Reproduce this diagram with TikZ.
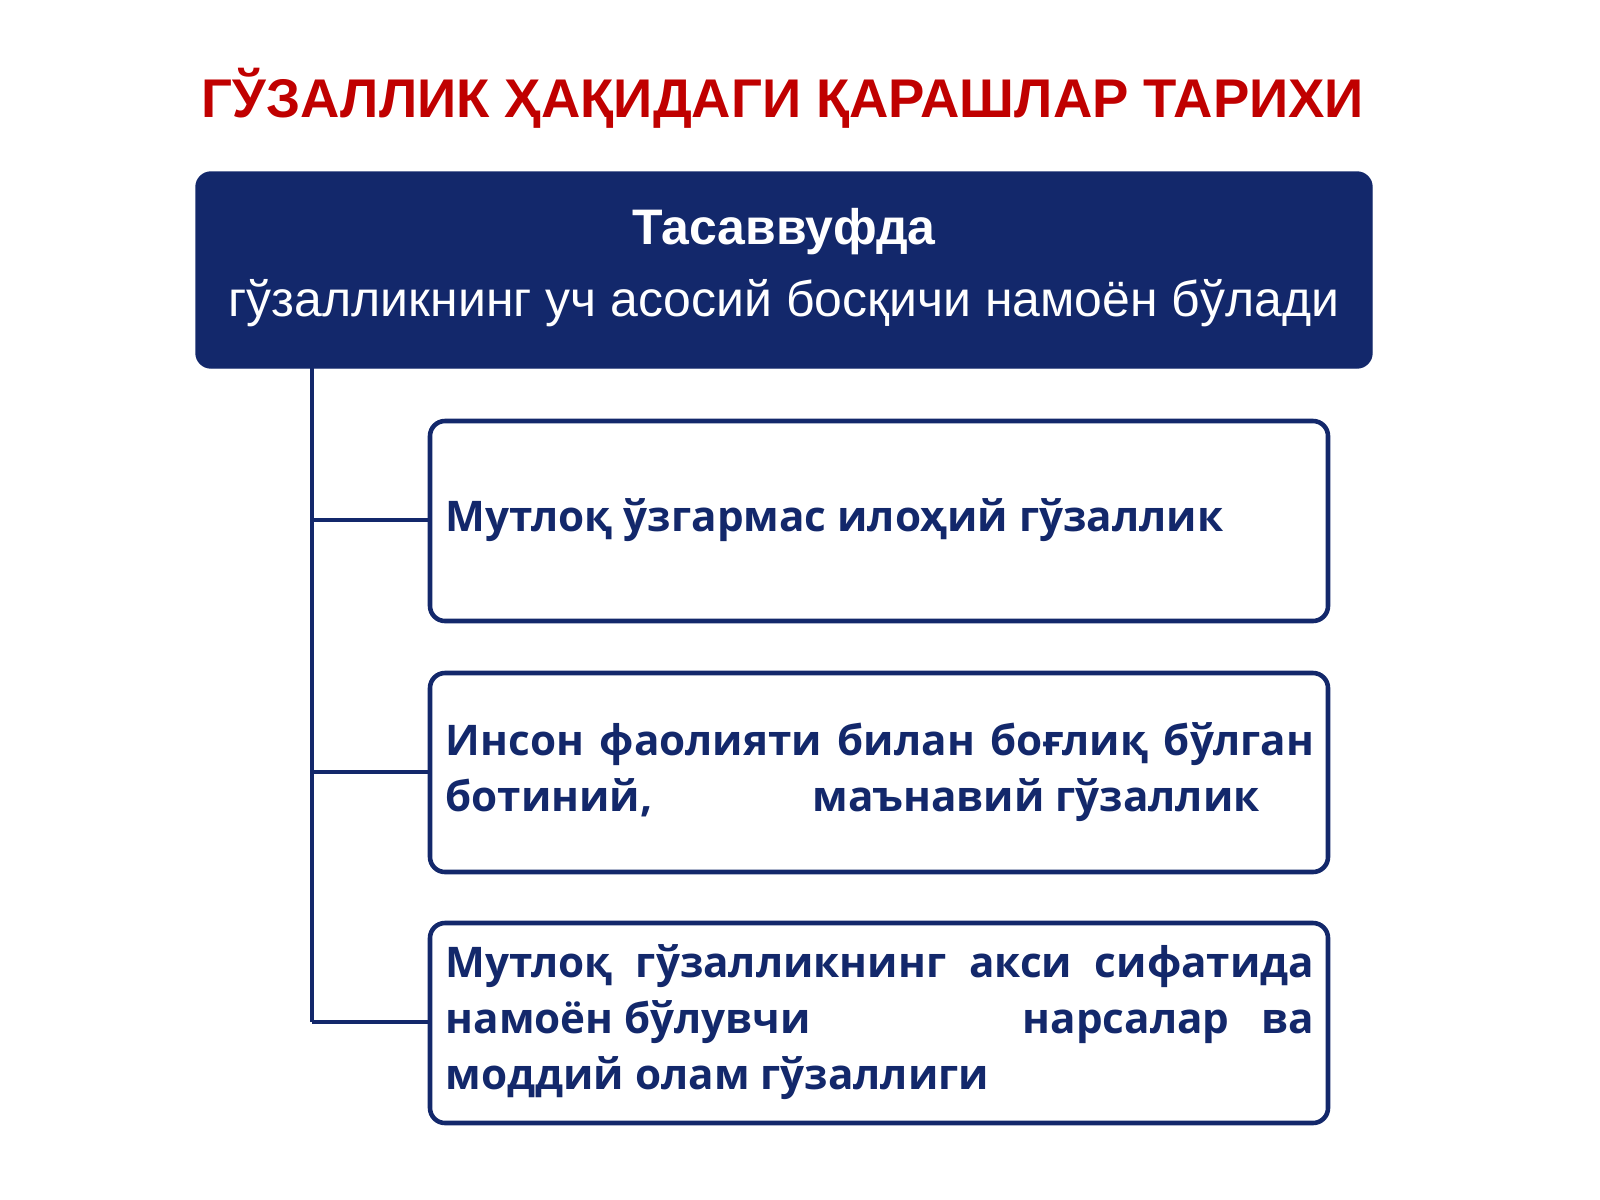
\documentclass[tikz,border=0pt]{standalone}
\usepackage{fontspec}
\setmainfont{Liberation Sans}
\newfontfamily\boxfont{Open Sans}
\definecolor{navy}{HTML}{13286B}
\definecolor{ttl}{HTML}{C00000}
\begin{document}
\begin{tikzpicture}[x=0.01cm,y=-0.01cm,
  item/.style={draw=navy,line width=1.3pt,rounded corners=0.15cm,fill=white},
  itxt/.style={anchor=west,text=navy,font=\boxfont\bfseries\fontsize{12}{15.9}\selectfont,align=left,inner sep=0pt},
  conn/.style={draw=navy,line width=1.3pt}]
\useasboundingbox (0,0) rectangle (1600,1200);
\node[text=ttl,font=\bfseries\fontsize{15.5}{19}\selectfont] (title) at (783,98) {ГЎЗАЛЛИК ҲАҚИДАГИ ҚАРАШЛАР ТАРИХИ};
\filldraw[navy,rounded corners=0.15cm] (196,172) rectangle (1372,368);
\node[text=white,font=\bfseries\fontsize{14.2}{17}\selectfont] (h1) at (784,232) {Тасаввуфда};
\node[text=white,font=\fontsize{14.2}{17}\selectfont] (h2) at (784,303) {гўзалликнинг уч асосий босқичи намоён бўлади};
\coordinate (top) at (312,368);
\coordinate (b1) at (312,520);
\coordinate (b2) at (312,772);
\coordinate (b3) at (312,1022);
\draw[item] (430,421) rectangle (1328,621);
\draw[item] (430,673) rectangle (1328,872);
\draw[item] (430,923) rectangle (1328,1123);
\coordinate (e1) at (430,520);
\coordinate (e2) at (430,772);
\coordinate (e3) at (430,1022);
\draw[conn] (top) -- (b3);
\draw[conn] (b1) -- (e1);
\draw[conn] (b2) -- (e2);
\draw[conn] (b3) -- (e3);
\node[itxt] (t1) at (445,520) {Мутлоқ ўзгармас илоҳий гўзаллик};
\node[itxt] (t2) at (445,772) {\makebox[8.68cm][s]{Инсон фаолияти билан боғлиқ бўлган}\\ботиний,\hspace{1.6cm}маънавий гўзаллик};
\node[itxt] (t3) at (445,1022) {\makebox[8.68cm][s]{Мутлоқ гўзалликнинг акси сифатида}\\\makebox[8.68cm][l]{намоён бўлувчи\hspace{1.8cm}\hfill нарсалар\hfill ва}\\моддий олам гўзаллиги};
\end{tikzpicture}
\end{document}
